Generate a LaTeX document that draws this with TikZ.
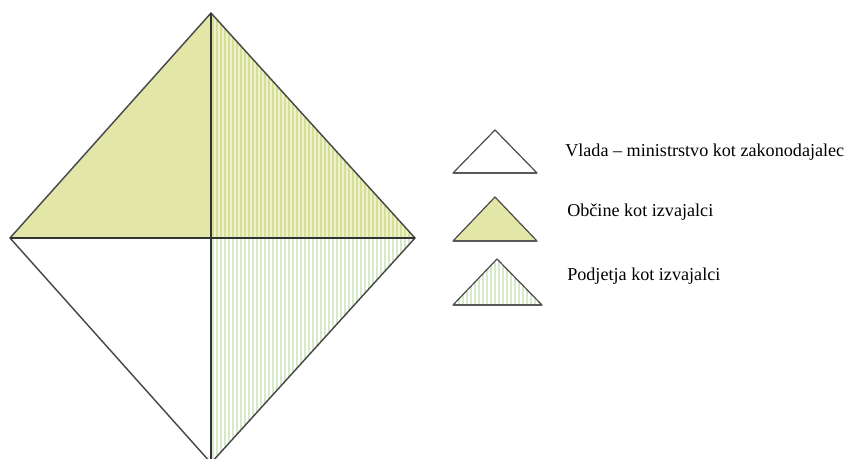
\documentclass[tikz,border=0pt]{standalone}
\usepackage{fontspec}
\setmainfont{Liberation Serif}
\definecolor{olivefill}{HTML}{E2E6A6}
\definecolor{olivelight}{HTML}{EEF2CC}
\definecolor{olivestripe}{HTML}{D6DF96}
\definecolor{greenstripe}{HTML}{D6EACA}
\definecolor{edgegray}{HTML}{4A4A4A}
\tikzset{
  edge/.style={draw=edgegray, line width=1.1pt, line join=round},
  axis/.style={draw=black!80, line width=1.6pt},
  olivestr/.style={draw=olivestripe, line width=1.5pt},
  greenstr/.style={draw=greenstripe, line width=1.5pt},
  legendbase/.style={draw=black!65, line width=1.8pt},
  label/.style={anchor=west, inner sep=0pt, font=\fontsize{13.6}{16}\selectfont}
}
\begin{document}
\begin{tikzpicture}[x=0.75pt,y=-0.75pt]
\useasboundingbox (0,0) rectangle (845,458);
% corners of the diamond
\coordinate (T) at (211,13);
\coordinate (L) at (10,238);
\coordinate (R) at (415,238);
\coordinate (B) at (211,463);
\coordinate (C) at (211,238);
% upper left quarter
\fill[olivefill] (T) -- (L) -- (C) -- cycle;
% upper right quarter, olive stripes
\fill[olivelight] (T) -- (C) -- (R) -- cycle;
\begin{scope}
  \clip (T) -- (C) -- (R) -- cycle;
  \foreach \x in {213,217,...,417} \draw[olivestr] (\x,0) -- (\x,240);
\end{scope}
% lower right quarter, green stripes
\begin{scope}
  \clip (C) -- (R) -- (B) -- cycle;
  \foreach \x in {213,217,...,417} \draw[greenstr] (\x,236) -- (\x,470);
\end{scope}
% outline and axes
\draw[edge] (T) -- (R) -- (B) -- (L) -- cycle;
\draw[axis] (L) -- (R);
\draw[axis] (T) -- (B);
% legend
\draw[edge, line width=0.9pt] (495,130) -- (537,173) -- (453,173) -- cycle;
\draw[legendbase] (453,173) -- (537,173);
\fill[olivefill] (495,197) -- (537,241) -- (453,241) -- cycle;
\draw[edge, line width=0.9pt] (495,197) -- (537,241) -- (453,241) -- cycle;
\draw[legendbase] (453,241) -- (537,241);
\begin{scope}
  \clip (497,259) -- (542,305) -- (453,305) -- cycle;
  \foreach \x in {455,459,...,543} \draw[greenstr] (\x,255) -- (\x,306);
\end{scope}
\draw[edge, line width=0.9pt] (497,259) -- (542,305) -- (453,305) -- cycle;
\draw[legendbase] (453,305) -- (542,305);
\node[label] (l1) at (565,152) {Vlada – ministrstvo kot zakonodajalec};
\node[label] (l2) at (567,212) {Občine kot izvajalci};
\node[label] (l3) at (567,276) {Podjetja kot izvajalci};
\end{tikzpicture}
\end{document}
